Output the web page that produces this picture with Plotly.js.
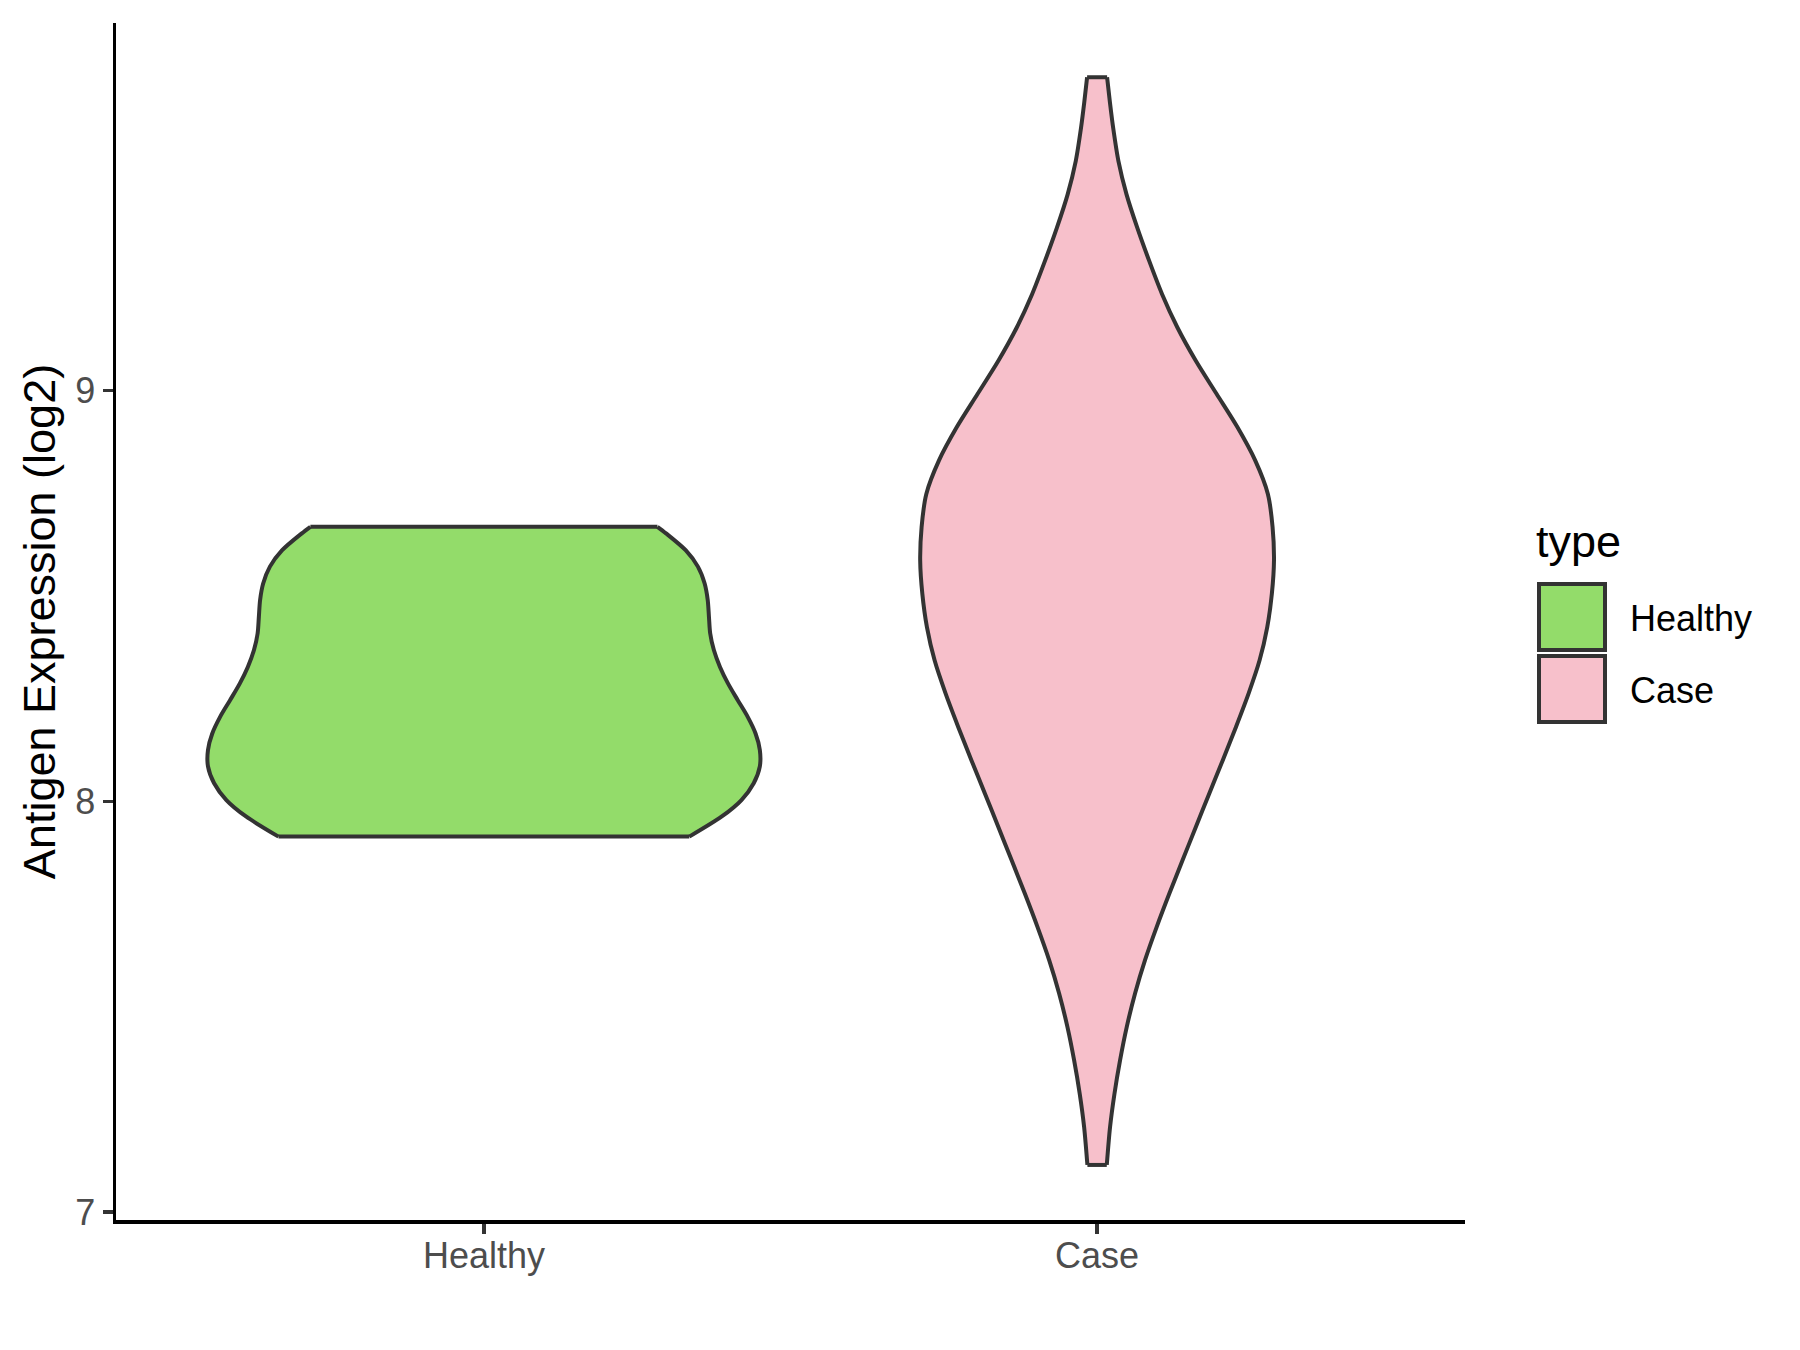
<!DOCTYPE html>
<html>
<head>
<meta charset="utf-8">
<script src="https://cdn.plot.ly/plotly-3.0.1.min.js"></script>
<style>
  html, body { margin: 0; padding: 0; background: #ffffff; }
  #chart { width: 1800px; height: 1350px; }
</style>
</head>
<body>
<div id="chart"></div>
<script>
// ---------------- data ----------------
const categories = ["Healthy", "Case"];
const categoryPos = [1, 2];
const fillColors = ["#93DC6A", "#F7C0CB"];

// Healthy violin profile: expression value (log2) and half-width (x units)
const healthyY  = [7.914, 7.963, 8.003, 8.044, 8.085, 8.125, 8.165, 8.206, 8.246, 8.287, 8.327, 8.368, 8.409, 8.449, 8.490, 8.530, 8.571, 8.611, 8.652, 8.668];
const healthyHW = [0.335, 0.388, 0.420, 0.440, 0.450, 0.450, 0.443, 0.430, 0.414, 0.398, 0.385, 0.375, 0.369, 0.367, 0.365, 0.360, 0.349, 0.329, 0.297, 0.283];

// Case violin profile
const caseY  = [7.115, 7.208, 7.289, 7.370, 7.451, 7.533, 7.614, 7.695, 7.776, 7.857, 7.938, 8.019, 8.100, 8.181, 8.262, 8.343, 8.424, 8.505, 8.586, 8.667, 8.748, 8.829, 8.910, 8.991, 9.072, 9.153, 9.234, 9.315, 9.396, 9.477, 9.558, 9.639, 9.700, 9.762];
const caseHW = [0.0158, 0.0212, 0.0284, 0.0375, 0.0484, 0.0620, 0.0783, 0.0974, 0.1180, 0.1395, 0.1612, 0.1830, 0.2050, 0.2265, 0.2470, 0.2650, 0.2775, 0.2850, 0.2885, 0.2862, 0.2785, 0.2580, 0.2290, 0.1950, 0.1610, 0.1310, 0.1060, 0.0850, 0.0655, 0.0480, 0.0348, 0.0262, 0.0210, 0.0163];

const yTickVals = [7, 8, 9];
const yTickText = ["7", "8", "9"];

// ---------------- build ----------------
const OUTLINE = "#333333";
const traces = [];
[[healthyY, healthyHW], [caseY, caseHW]].forEach((p, i) => {
  const ys = p[0], hws = p[1], c = categoryPos[i], n = ys.length;
  const right = ys.map((y, k) => c + hws[k]);
  const left = ys.map((y, k) => c - hws[k]);
  // filled body (closed polygon)
  const fx = right.concat(left.slice().reverse(), [right[0]]);
  const fy = ys.concat(ys.slice().reverse(), [ys[0]]);
  traces.push({
    type: "scatter", mode: "lines", x: fx, y: fy,
    fill: "toself", fillcolor: fillColors[i],
    line: {color: fillColors[i], width: 0.5},
    name: categories[i], showlegend: false, hoverinfo: "skip"
  });
  // smooth side outlines
  traces.push({
    type: "scatter", mode: "lines",
    x: right.concat([null], left), y: ys.concat([null], ys),
    connectgaps: false,
    line: {color: OUTLINE, width: 4, shape: "spline", smoothing: 0.8},
    showlegend: false, hoverinfo: "skip"
  });
  // flat trimmed ends
  traces.push({
    type: "scatter", mode: "lines",
    x: [left[0], right[0], null, left[n - 1], right[n - 1]],
    y: [ys[0], ys[0], null, ys[n - 1], ys[n - 1]],
    connectgaps: false,
    line: {color: OUTLINE, width: 4},
    showlegend: false, hoverinfo: "skip"
  });
});

const W = 1800, H = 1350;
const M = {l: 116, r: 335, t: 23, b: 130};
const PW = W - M.l - M.r, PH = H - M.t - M.b;
const px = v => (v - M.l) / PW;
const py = v => (H - M.b - v) / PH;

const FONT = "Liberation Sans, Arial, sans-serif";

const shapes = [], annotations = [];
annotations.push({
  xref: "paper", yref: "paper", x: px(1534), y: py(541), xanchor: "left", yanchor: "middle",
  text: "type", showarrow: false, font: {family: FONT, size: 45, color: "#000000"}
});
const keyTop = [584, 656];
categories.forEach((c, i) => {
  shapes.push({
    type: "rect", xref: "paper", yref: "paper",
    x0: px(1539), x1: px(1605), y0: py(keyTop[i]), y1: py(keyTop[i] + 66),
    fillcolor: fillColors[i], line: {color: OUTLINE, width: 4}
  });
  annotations.push({
    xref: "paper", yref: "paper", x: px(1628), y: py(keyTop[i] + 34), xanchor: "left", yanchor: "middle",
    text: c, showarrow: false, font: {family: FONT, size: 36, color: "#000000"}
  });
});

const layout = {
  width: W, height: H,
  margin: M,
  paper_bgcolor: "#ffffff", plot_bgcolor: "#ffffff",
  font: {family: FONT},
  showlegend: false,
  xaxis: {
    range: [0.4, 2.6], tickvals: categoryPos, ticktext: categories,
    showgrid: false, zeroline: false,
    showline: true, linecolor: "#000000", linewidth: 3.5,
    ticks: "outside", ticklen: 10, tickwidth: 3.5, tickcolor: OUTLINE,
    ticklabelstandoff: -9,
    tickfont: {family: FONT, size: 36, color: "#4D4D4D"}
  },
  yaxis: {
    range: [6.981, 9.894], tickvals: yTickVals, ticktext: yTickText,
    showgrid: false, zeroline: false,
    showline: true, linecolor: "#000000", linewidth: 3.5,
    ticks: "outside", ticklen: 10, tickwidth: 3.5, tickcolor: OUTLINE,
    tickfont: {family: FONT, size: 36, color: "#4D4D4D"},
    title: {text: "Antigen Expression (log2)", font: {family: FONT, size: 45, color: "#000000"}, standoff: 6}
  },
  shapes: shapes,
  annotations: annotations
};

Plotly.newPlot("chart", traces, layout, {staticPlot: true, displayModeBar: false});
</script>
</body>
</html>
